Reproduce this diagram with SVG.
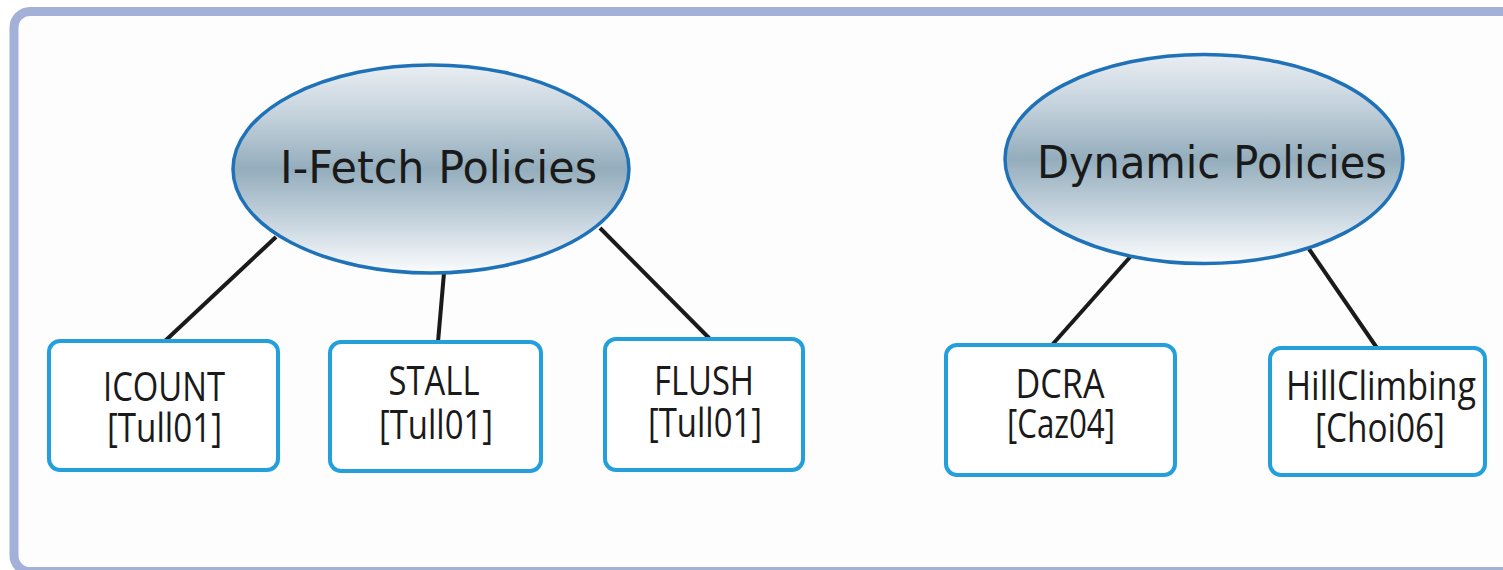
<svg xmlns="http://www.w3.org/2000/svg" width="1503" height="570" viewBox="0 0 1503 570">
<defs>
<linearGradient id="eg" x1="0" y1="0" x2="0" y2="1">
<stop offset="0" stop-color="#e9eef3"/>
<stop offset="0.25" stop-color="#c3d1db"/>
<stop offset="0.5" stop-color="#94adbc"/>
<stop offset="0.75" stop-color="#c6d4de"/>
<stop offset="1" stop-color="#fbfcfd"/>
</linearGradient>
<style>
.ell{fill:url(#eg);stroke:#1f72b8;stroke-width:3.5}
.box{fill:#ffffff;stroke:#23a0dc;stroke-width:4}
.title{font-family:"DejaVu Sans",Verdana,sans-serif;font-size:44px;fill:#1a1a1a;text-anchor:middle}
.lbl{font-family:"Open Sans","Noto Sans",sans-serif;font-size:40px;fill:#1a1a1a;text-anchor:middle}
.con{stroke:#1a1a1a;stroke-width:4;fill:none;stroke-linecap:butt}
</style>
</defs>
<rect x="0" y="0" width="1503" height="570" fill="#ffffff"/>
<rect id="frame" x="14" y="11.5" width="1520" height="560" rx="16" fill="#fdfdfe" stroke="#a3b0d8" stroke-width="9"/>
<g id="connectors">
<line class="con" x1="276" y1="237" x2="165" y2="341"/>
<line class="con" x1="444" y1="273" x2="438" y2="342"/>
<line class="con" x1="600" y1="228" x2="710" y2="339"/>
<line class="con" x1="1131" y1="256" x2="1052" y2="345"/>
<line class="con" x1="1309" y1="249" x2="1377" y2="348"/>
</g>
<g id="ifetch">
<ellipse class="ell" cx="431" cy="169" rx="198" ry="104"/>
<text class="title" x="438.5" y="183" textLength="317" lengthAdjust="spacingAndGlyphs">I-Fetch Policies</text>
</g>
<g id="dynamic">
<ellipse class="ell" cx="1204" cy="159" rx="199" ry="104.5"/>
<text class="title" x="1212" y="178" textLength="350" lengthAdjust="spacingAndGlyphs">Dynamic Policies</text>
</g>
<g id="icount">
<rect class="box" x="49" y="341" width="229" height="129" rx="11"/>
<text class="lbl" x="164" y="401" textLength="122" lengthAdjust="spacingAndGlyphs">ICOUNT</text>
<text class="lbl" x="164.5" y="442" textLength="115" lengthAdjust="spacingAndGlyphs">[Tull01]</text>
</g>
<g id="stall">
<rect class="box" x="330" y="342" width="211" height="129" rx="11"/>
<text class="lbl" x="434" y="395" textLength="91" lengthAdjust="spacingAndGlyphs">STALL</text>
<text class="lbl" x="436" y="439" textLength="114" lengthAdjust="spacingAndGlyphs">[Tull01]</text>
</g>
<g id="flush">
<rect class="box" x="605" y="339" width="198" height="131" rx="11"/>
<text class="lbl" x="704" y="395" textLength="100" lengthAdjust="spacingAndGlyphs">FLUSH</text>
<text class="lbl" x="705" y="437" textLength="114" lengthAdjust="spacingAndGlyphs">[Tull01]</text>
</g>
<g id="dcra">
<rect class="box" x="946" y="345" width="229" height="130" rx="11"/>
<text class="lbl" x="1060" y="398" textLength="89" lengthAdjust="spacingAndGlyphs">DCRA</text>
<text class="lbl" x="1061" y="438" textLength="108" lengthAdjust="spacingAndGlyphs">[Caz04]</text>
</g>
<g id="hillclimbing">
<rect class="box" x="1270" y="348" width="215" height="127" rx="11"/>
<text class="lbl" x="1381" y="400" textLength="190" lengthAdjust="spacingAndGlyphs">HillClimbing</text>
<text class="lbl" x="1380" y="442" textLength="130" lengthAdjust="spacingAndGlyphs">[Choi06]</text>
</g>
</svg>
